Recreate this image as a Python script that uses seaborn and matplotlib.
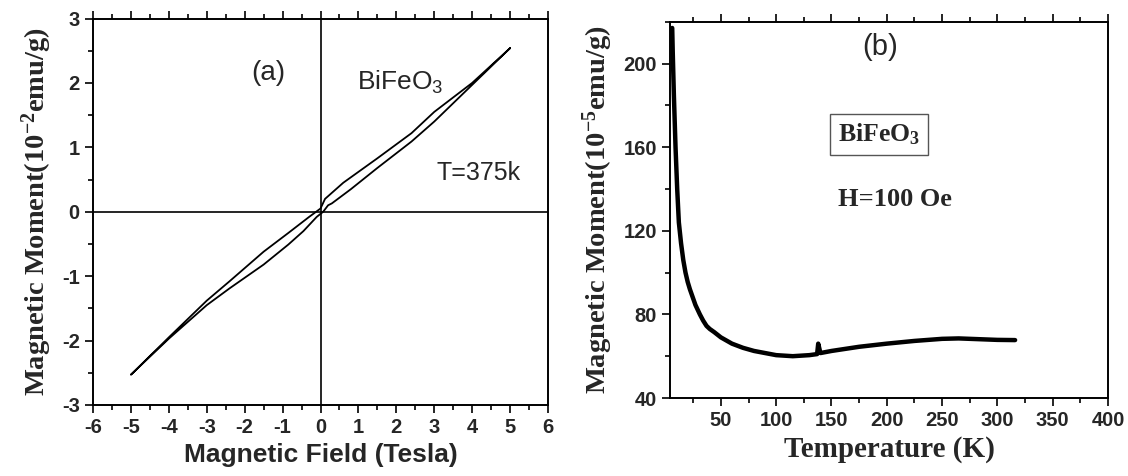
import numpy as np
import pandas as pd
import matplotlib
matplotlib.use("Agg")
import matplotlib.pyplot as plt
import seaborn as sns
from matplotlib.ticker import MultipleLocator

# ---- data (a): M-H hysteresis loop at 375 K ----
H_down = [5, 4, 3, 2.4, 1.5, 0.6, 0.12, 0.0, -0.3, -0.85, -1.5, -2.4, -3, -4, -5]
M_down = [2.54, 2.0, 1.55, 1.22, 0.83, 0.45, 0.2, 0.05, -0.08, -0.33, -0.62, -1.08, -1.38, -1.95, -2.53]
H_up = [-5, -4, -3, -2.4, -1.5, -0.85, -0.45, -0.1, 0.07, 0.2, 0.3, 0.8, 1.5, 2.4, 3, 4, 5]
M_up = [-2.53, -1.97, -1.45, -1.19, -0.82, -0.51, -0.3, -0.08, 0.0, 0.1, 0.13, 0.35, 0.68, 1.09, 1.4, 1.97, 2.54]

# ---- data (b): M-T curve at H=100 Oe ----
T_vals = [6, 6.5, 7.5, 9, 10.5, 12, 14, 16, 18, 20, 22, 24, 27, 31, 34, 37, 40, 44, 50, 60, 70, 80, 90,
          100, 115, 130, 137, 138, 140, 150, 175, 200, 225, 250, 265, 280, 300, 316]
M_vals = [217, 205, 185, 160, 140, 124, 114, 106, 100, 95.5, 92, 89, 84.5, 80, 77, 74.5, 73, 71.5, 69, 66, 64,
          62.5, 61.5, 60.5, 60, 60.5, 61, 66, 61.5, 62.5, 64.5, 66, 67.3, 68.3, 68.5, 68.2, 67.8, 67.7]

loop = pd.DataFrame({"H": H_down + H_up, "M": M_down + M_up})
mt = pd.DataFrame({"T": T_vals, "M": M_vals})

sns.set_style("ticks")
plt.rcParams["font.family"] = ["Liberation Sans", "DejaVu Sans"]
plt.rcParams["mathtext.default"] = "regular"
plt.rcParams["axes.unicode_minus"] = False

fig = plt.figure(figsize=(11.28, 4.76), dpi=100)
ax1 = fig.add_axes([93 / 1128, 1 - 405 / 476, (548 - 93) / 1128, (405 - 18.5) / 476])
ax2 = fig.add_axes([670 / 1128, 1 - 398 / 476, (1108 - 670) / 1128, (398 - 21.7) / 476])

serif = ["Liberation Serif", "DejaVu Serif"]
sans = ["Liberation Sans", "DejaVu Sans"]

# ---- panel (a) ----
sns.lineplot(data=loop, x="H", y="M", sort=False, estimator=None, color="black", lw=1.3, ax=ax1)
ax1.axhline(0, color="black", lw=1.2, zorder=0)
ax1.axvline(0, color="black", lw=1.2, zorder=0)
ax1.set_xlim(-6, 6)
ax1.set_ylim(-3, 3)
ax1.xaxis.set_major_locator(MultipleLocator(1))
ax1.xaxis.set_minor_locator(MultipleLocator(0.5))
ax1.yaxis.set_major_locator(MultipleLocator(1))
ax1.yaxis.set_minor_locator(MultipleLocator(0.5))
ax1.set_xlabel("Magnetic Field (Tesla)", family=sans, fontweight="bold", fontsize=19, labelpad=4)
ax1.set_ylabel(r"Magnetic Moment(10$^{-2}$emu/g)", family=serif, fontweight="bold",
               fontsize=20.5, labelpad=6)
ax1.text(-1.38, 2.16, "(a)", family=sans, fontsize=20, ha="center", va="center")
ax1.text(0.95, 1.9, r"BiFeO$_{3}$", family=sans, fontsize=19, ha="left", va="baseline")
ax1.text(3.05, 0.5, "T=375k", family=sans, fontsize=18, ha="left", va="baseline")

# ---- panel (b) ----
sns.lineplot(data=mt, x="T", y="M", sort=False, estimator=None, color="black", lw=3.2, ax=ax2)
ax2.set_xlim(4, 400)
ax2.set_ylim(40, 220)
ax2.xaxis.set_major_locator(MultipleLocator(50))
ax2.xaxis.set_minor_locator(MultipleLocator(25))
ax2.yaxis.set_major_locator(MultipleLocator(40))
ax2.yaxis.set_minor_locator(MultipleLocator(20))
ax2.set_xticks([50, 100, 150, 200, 250, 300, 350, 400])
ax2.set_xlabel("Temperature (K)", family=serif, fontweight="bold", fontsize=21, labelpad=4)
ax2.set_ylabel(r"Magnetic Moment(10$^{-5}$emu/g)", family=serif, fontweight="bold",
               fontsize=20.5, labelpad=6)
ax2.text(194, 208, "(b)", family=sans, fontsize=21, ha="center", va="center")
ax2.text(193, 166, r"BiFeO$_{3}$", family=serif, fontweight="bold", fontsize=18.5,
         ha="center", va="center",
         bbox=dict(boxstyle="square,pad=0.3", fc="white", ec="#555555", lw=1.0))
ax2.text(207, 135, "H=100 Oe", family=serif, fontweight="bold", fontsize=19, ha="center", va="center")

for ax in (ax1, ax2):
    for s in ax.spines.values():
        s.set_visible(True)
        s.set_linewidth(1.4)
        s.set_color("black")
    ax.tick_params(which="both", direction="out", top=True, right=False, bottom=True, left=True,
                   labeltop=False, color="black", width=1.2)
    ax.tick_params(which="major", length=6)
    ax.tick_params(which="minor", length=3.5)
    for lab in ax.get_xticklabels() + ax.get_yticklabels():
        lab.set_family(sans)
        lab.set_fontweight("bold")
        lab.set_fontsize(14.5)

fig.savefig("out.png", dpi=100)
